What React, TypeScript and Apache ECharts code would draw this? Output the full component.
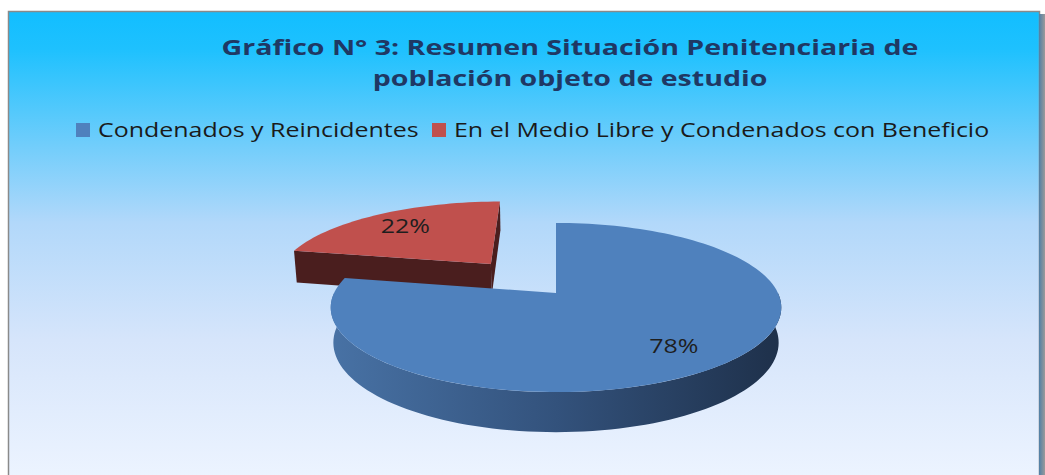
import React, { useEffect, useRef } from 'react';
import * as echarts from 'echarts';

const titleLines = ['Gráfico N° 3: Resumen Situación Penitenciaria de', 'población objeto de estudio'];
const categories = ['Condenados y Reincidentes', 'En el Medio Libre y Condenados con Beneficio'];
const values = [78, 22];
const explodeFractions = [0, 0.49];
const topColors = ['#4F81BD', '#C0504D'];
const sideColors = [
  ['#4872A5', '#33527C', '#1E304A'],
  ['#5A2424', '#4A1E1E', '#3A1717'],
];
const faceColors = ['#2B4467', '#4A1E1E'];

// layout constants for the pseudo-3D projection
const CX = 556;
const CY = 293;
const FOCAL = 1203;
const DIST = 5.42;
const TILT = (21.7 * Math.PI) / 180;
const THICK = 0.169;
const LABEL_R = 0.75;
const SIN = Math.sin(TILT);
const COS = Math.cos(TILT);
const RAD = Math.PI / 180;
const STRETCH = 1.28;

function project(X: number, Y: number, Z: number): number[] {
  const yv = Y * COS - Z * SIN;
  const dv = DIST - (Z * COS + Y * SIN);
  return [CX + (FOCAL * X) / dv, CY - (FOCAL * yv) / dv];
}

function arc(ox: number, oz: number, a0: number, a1: number, Y: number): number[][] {
  const n = Math.max(2, Math.ceil(Math.abs(a1 - a0) / 2));
  const pts: number[][] = [];
  for (let k = 0; k <= n; k++) {
    const a = (a0 + ((a1 - a0) * k) / n) * RAD;
    pts.push(project(ox + Math.cos(a), Y, oz - Math.sin(a)));
  }
  return pts;
}

function buildSlice(i: number, v: number) {
  const total = values.reduce((s, x) => s + x, 0);
  let cum = 0;
  for (let k = 0; k < i; k++) cum += values[k];
  const start = 90 - (360 * cum) / total;
  const end = start - (360 * v) / total;
  const mid = (start + end) / 2;
  const e = explodeFractions[i];
  const ox = e * Math.cos(mid * RAD);
  const oz = -e * Math.sin(mid * RAD);
  const children: any[] = [];

  // outer wall (front half only)
  for (let k = -2; k <= 1; k++) {
    const lo = Math.max(end, -180 + 360 * k);
    const hi = Math.min(start, 360 * k);
    if (hi - lo > 0.01) {
      const topPts = arc(ox, oz, hi, lo, 0);
      const botPts = arc(ox, oz, lo, hi, -THICK);
      const sc = sideColors[i];
      children.push({
        type: 'polygon',
        shape: { points: topPts.concat(botPts) },
        style: {
          fill: new echarts.graphic.LinearGradient(0, 0, 1, 0, [
            { offset: 0, color: sc[0] },
            { offset: 0.5, color: sc[1] },
            { offset: 1, color: sc[2] },
          ]),
          stroke: null,
        },
      });
    }
  }

  // radial faces that face the viewer
  const faces = [
    { ang: start, normal: start + 90 },
    { ang: end, normal: end - 90 },
  ];
  faces.forEach((f) => {
    const a = f.ang * RAD;
    const na = f.normal * RAD;
    const px = ox + 0.5 * Math.cos(a);
    const pz = oz - 0.5 * Math.sin(a);
    const nx = Math.cos(na);
    const nz = -Math.sin(na);
    const dot = nx * (0 - px) + nz * (DIST * COS - pz);
    if (dot > 0.01) {
      const ex = ox + Math.cos(a);
      const ez = oz - Math.sin(a);
      children.push({
        type: 'polygon',
        shape: {
          points: [project(ox, 0, oz), project(ex, 0, ez), project(ex, -THICK, ez), project(ox, -THICK, oz)],
        },
        style: { fill: faceColors[i], stroke: null },
      });
    }
  });

  // top face
  const top = [project(ox, 0, oz)].concat(arc(ox, oz, start, end, 0));
  children.push({
    type: 'polygon',
    shape: { points: top },
    style: { fill: topColors[i], stroke: null },
  });

  // label
  const lp = project(ox + LABEL_R * Math.cos(mid * RAD), 0, oz - LABEL_R * Math.sin(mid * RAD));
  children.push({
    type: 'text',
    x: lp[0],
    y: lp[1],
    scaleX: 1.25,
    style: {
      text: Math.round((v / total) * 100) + '%',
      fill: '#1E1E1E',
      font: '20px "Open Sans", sans-serif',
      align: 'center',
      verticalAlign: 'middle',
    },
  });

  return { type: 'group', children };
}

export default function App() {
  const ref = useRef<HTMLDivElement>(null);
  useEffect(() => {
    if (!ref.current) return;
    const chart = echarts.init(ref.current, null, { renderer: 'svg' });

    const titleTexts = titleLines.map((t, i) => ({
      type: 'text',
      silent: true,
      x: 570,
      y: 47 + i * 31,
      scaleX: 1.36,
      z: 5,
      style: {
        text: t,
        fill: '#1F3864',
        font: 'bold 21px "Open Sans", sans-serif',
        align: 'center',
        verticalAlign: 'middle',
      },
    }));

    const legendX = [76, 432];
    const legendItems: any[] = [];
    categories.forEach((name, i) => {
      legendItems.push({
        type: 'rect',
        silent: true,
        z: 5,
        shape: { x: legendX[i], y: 123, width: 14, height: 14 },
        style: { fill: topColors[i] },
      });
      legendItems.push({
        type: 'text',
        silent: true,
        z: 5,
        x: legendX[i] + 22,
        y: 130,
        scaleX: STRETCH,
        style: {
          text: name,
          fill: '#1A1A1A',
          font: '19.5px "Open Sans", sans-serif',
          align: 'left',
          verticalAlign: 'middle',
        },
      });
    });

    const option: any = {
      animation: false,
      backgroundColor: '#ffffff',
      color: topColors,
      graphic: [
        {
          type: 'rect',
          z: -10,
          silent: true,
          shape: { x: 8.5, y: 11.5, width: 1031, height: 470 },
          style: {
            fill: new echarts.graphic.LinearGradient(0, 0, 0, 1, [
              { offset: 0, color: '#12BEFF' },
              { offset: 0.08, color: '#1EC1FE' },
              { offset: 0.28, color: '#6FCDFB' },
              { offset: 0.45, color: '#B2D8FA' },
              { offset: 0.7, color: '#D6E5FB' },
              { offset: 1, color: '#EDF4FF' },
            ]),
            stroke: '#8A8A8A',
            lineWidth: 1.5,
          },
        },
        {
          type: 'rect',
          z: -9,
          silent: true,
          shape: { x: 1039, y: 14, width: 6, height: 470 },
          style: {
            fill: new echarts.graphic.LinearGradient(0, 0, 1, 0, [
              { offset: 0, color: '#4F7FA6' },
              { offset: 1, color: '#9A9A9A' },
            ]),
          },
        },
        ...titleTexts,
        ...legendItems,
      ],
      series: categories.map((name, i) => ({
        type: 'custom',
        name,
        coordinateSystem: 'none',
        z: explodeFractions[i] > 0 ? 2 : 3,
        silent: true,
        itemStyle: { color: topColors[i] },
        data: [[values[i]]],
        renderItem: (_params: any, api: any) => buildSlice(i, api.value(0)),
      })),
    };
    chart.setOption(option);
    return () => chart.dispose();
  }, []);
  return (
    <div
      ref={ref}
      style={{ position: 'absolute', left: 0, top: 0, width: 1045, height: 475 }}
    />
  );
}
